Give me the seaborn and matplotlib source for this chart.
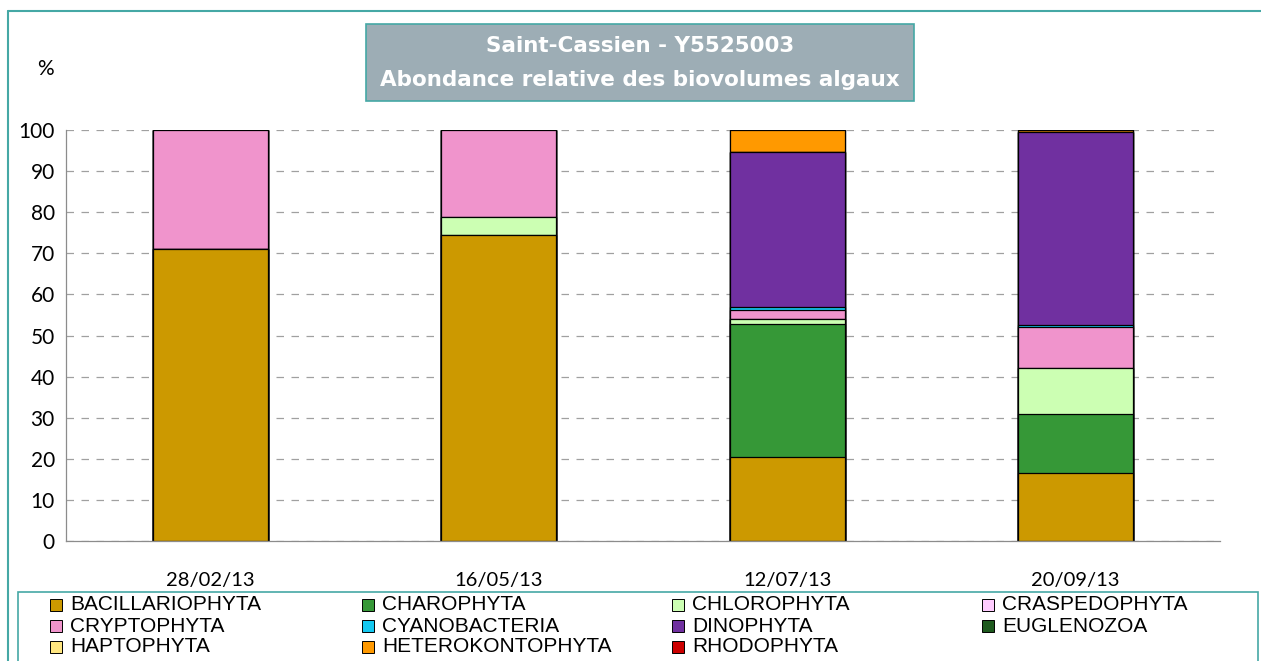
import matplotlib
matplotlib.use("Agg")
import matplotlib.pyplot as plt
import seaborn as sns
import numpy as np
from matplotlib.patches import Rectangle
from matplotlib.lines import Line2D

# data (% of algal biovolume)
dates = ["28/02/13", "16/05/13", "12/07/13", "20/09/13"]
groups = ["BACILLARIOPHYTA", "CHAROPHYTA", "CHLOROPHYTA", "CRASPEDOPHYTA",
          "CRYPTOPHYTA", "CYANOBACTERIA", "DINOPHYTA", "EUGLENOZOA",
          "HAPTOPHYTA", "HETEROKONTOPHYTA", "RHODOPHYTA"]
bacillariophyta = [71.0, 74.5, 20.4, 16.5]
charophyta = [0.0, 0.0, 32.4, 14.3]
chlorophyta = [0.0, 4.3, 1.3, 11.2]
craspedophyta = [0.0, 0.0, 0.0, 0.0]
cryptophyta = [29.0, 21.2, 2.1, 10.0]
cyanobacteria = [0.0, 0.0, 0.8, 0.5]
dinophyta = [0.0, 0.0, 37.7, 46.9]
euglenozoa = [0.0, 0.0, 0.0, 0.0]
haptophyta = [0.0, 0.0, 0.0, 0.0]
heterokontophyta = [0.0, 0.0, 5.3, 0.6]
rhodophyta = [0.0, 0.0, 0.0, 0.0]

colors = ["#CC9900", "#369837", "#CCFFB3", "#FFCCFF", "#F094CC", "#14C8F0",
          "#7030A0", "#1E5A1E", "#FFE680", "#FF9900", "#CC0000"]

series = [bacillariophyta, charophyta, chlorophyta, craspedophyta, cryptophyta,
          cyanobacteria, dinophyta, euglenozoa, haptophyta, heterokontophyta, rhodophyta]

sns.set_style("white")
plt.rcParams['font.family'] = ['Liberation Sans', 'DejaVu Sans']
plt.rcParams['text.color'] = 'black'
plt.rcParams['xtick.labelcolor'] = 'black'
plt.rcParams['ytick.labelcolor'] = 'black'

TEAL = "#45A8A5"
W, H = 1261, 661
fig = plt.figure(figsize=(12.61, 6.61), dpi=100)
ax = fig.add_axes([66 / W, 120 / H, (1220 - 66) / W, (541 - 130) / H])

# stacked bars: draw cumulative totals from the top layer down
cum = np.cumsum(np.array(series), axis=0)
for i in range(len(series) - 1, -1, -1):
    sns.barplot(x=dates, y=cum[i], color=colors[i], saturation=1, width=0.4,
                edgecolor="black", linewidth=0.9, errorbar=None, ax=ax)

ax.set_xlim(-0.5, 3.5)
ax.set_ylim(0, 100)
ax.set_yticks(range(0, 101, 10))
ax.yaxis.grid(True, linestyle=(0, (6, 6)), color="#A0A0A0", linewidth=0.9)
ax.xaxis.grid(False)
ax.set_axisbelow(True)
for s in ["top", "right"]:
    ax.spines[s].set_visible(False)
for s in ["left", "bottom"]:
    ax.spines[s].set_color("#8C8C8C")
    ax.spines[s].set_linewidth(0.9)
ax.set_xlabel("")
ax.set_ylabel("")

ax.set_xticks([-0.5, 0.5, 1.5, 2.5, 3.5], minor=True)
ax.tick_params(axis="x", which="major", length=0, pad=22, labelsize=14.5)
ax.tick_params(axis="x", which="minor", length=7, color="#8C8C8C", direction="out")
ax.tick_params(axis="y", length=5, color="#8C8C8C", direction="out", labelsize=15, pad=3)
for lab in ax.get_xticklabels() + ax.get_yticklabels():
    lab.set_family(["Lato", "DejaVu Sans"])
    lab.set_color("black")

fig.text(45 / W, 1 - 69 / H, "%", fontsize=15, ha="center", va="center",
         family=["Lato", "DejaVu Sans"], color="black")

# outer frame (top and left edges)
fig.add_artist(Line2D([8 / W, 1], [1 - 11 / H, 1 - 11 / H], color=TEAL, linewidth=1.5))
fig.add_artist(Line2D([8 / W, 8 / W], [0, 1 - 11 / H], color=TEAL, linewidth=1.5))

# title box
fig.add_artist(Rectangle((366 / W, 1 - 101 / H), (914 - 366) / W, (101 - 24) / H,
                         transform=fig.transFigure, facecolor="#9DADB5",
                         edgecolor=TEAL, linewidth=1.2))
fig.text(640 / W, 1 - 46 / H, "Saint-Cassien - Y5525003", fontsize=15.5,
         fontweight="bold", color="white", ha="center", va="center",
         family=["DejaVu Sans"])
fig.text(640 / W, 1 - 80 / H, "Abondance relative des biovolumes algaux", fontsize=15.5,
         fontweight="bold", color="white", ha="center", va="center",
         family=["DejaVu Sans"])

# legend box
fig.add_artist(Rectangle((18 / W, -0.01), (1258 - 18) / W, (661 - 592) / H + 0.01,
                         transform=fig.transFigure, facecolor="none",
                         edgecolor=TEAL, linewidth=1.2))
col_x = [50, 362, 672, 982]
row_y = [605, 626, 647]
for i, name in enumerate(groups):
    r, c = divmod(i, 4)
    x0, y0 = col_x[c], row_y[r]
    fig.add_artist(Rectangle((x0 / W, 1 - (y0 + 6) / H), 12 / W, 12 / H,
                             transform=fig.transFigure, facecolor=colors[i],
                             edgecolor="black", linewidth=0.7))
    fig.text((x0 + 20) / W, 1 - y0 / H, name, fontsize=15, ha="left", va="center",
             color="black")

fig.savefig("out.png", dpi=100)
